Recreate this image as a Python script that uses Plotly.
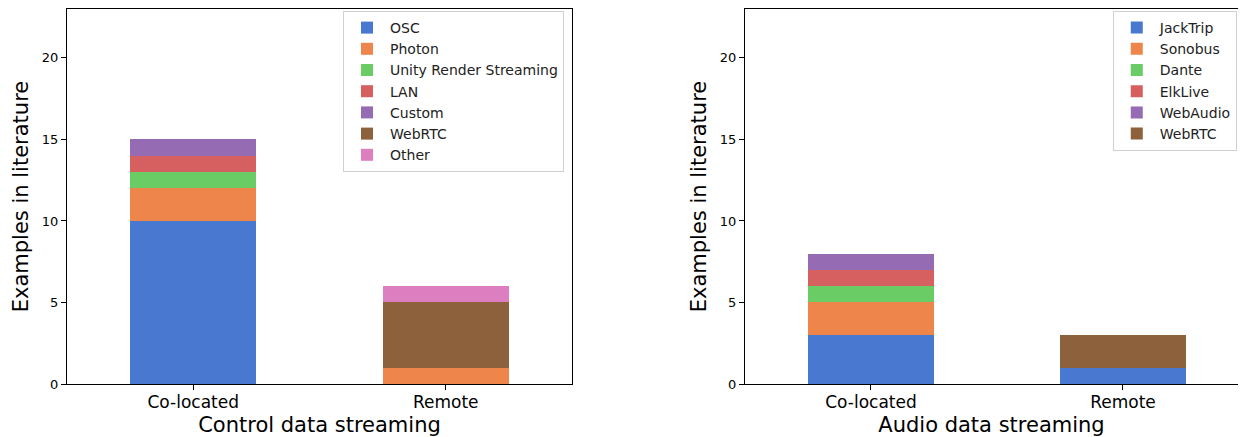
import plotly.graph_objects as go

categories = ["Co-located", "Remote"]

control_series = ["OSC", "Photon", "Unity Render Streaming", "LAN", "Custom", "WebRTC", "Other"]
control_values = [
    [10, 0],
    [2, 1],
    [1, 0],
    [1, 0],
    [1, 0],
    [0, 4],
    [0, 1],
]

audio_series = ["JackTrip", "Sonobus", "Dante", "ElkLive", "WebAudio", "WebRTC"]
audio_values = [
    [3, 1],
    [2, 0],
    [1, 0],
    [1, 0],
    [1, 0],
    [0, 2],
]

palette = ["#4878d0", "#ee854a", "#6acc64", "#d65f5f", "#956cb4", "#8c613c", "#dc7ec0"]

x_pos = [0, 1]
FONT = "DejaVu Sans"

fig = go.Figure()
for i, (name, vals) in enumerate(zip(control_series, control_values)):
    fig.add_trace(go.Bar(x=x_pos, y=vals, name=name, width=0.5,
                         marker=dict(color=palette[i], line=dict(width=0)),
                         xaxis="x", yaxis="y", legend="legend"))
for i, (name, vals) in enumerate(zip(audio_series, audio_values)):
    fig.add_trace(go.Bar(x=x_pos, y=vals, name=name, width=0.5,
                         marker=dict(color=palette[i], line=dict(width=0)),
                         xaxis="x2", yaxis="y2", legend="legend2"))

OFF = 8  # page body margin offset
W, H = 1246 - 2 * OFF, 437 - OFF
def fx(px): return (px - OFF) / W
def fy(py): return (H - (py - OFF)) / H

line_common = dict(showgrid=False, zeroline=False, showline=True, linecolor="black", linewidth=1,
                   ticks="outside", ticklen=5, tickcolor="black", automargin=False)
ytick = dict(family=FONT, size=13, color="black")
xtick = dict(family=FONT, size=17, color="black")
TITLE = dict(family=FONT, size=21, color="black")

right_edge = W + OFF  # screen px of the figure's right edge
fig.update_layout(
    width=W, height=H,
    margin=dict(l=0, r=0, t=0, b=0, autoexpand=False),
    paper_bgcolor="white", plot_bgcolor="white",
    barmode="stack",
    font=dict(family=FONT, color="black"),
    xaxis=dict(domain=[fx(67), fx(572)], range=[-0.5, 1.5], anchor="y",
               tickvals=x_pos, ticktext=categories, mirror=True, tickfont=xtick,
               ticklabelstandoff=-2,
               title=dict(text="Control data streaming", font=TITLE, standoff=7),
               **line_common),
    yaxis=dict(domain=[fy(384), fy(9)], range=[0, 23], anchor="x",
               tickvals=[0, 5, 10, 15, 20], mirror=True, tickfont=ytick,
               title=dict(text="Examples in literature", font=TITLE, standoff=7),
               **line_common),
    xaxis2=dict(domain=[fx(745), 1.0], range=[-0.5, 1.5 - (1249 - right_edge) / 252.5], anchor="y2",
                tickvals=x_pos, ticktext=categories, mirror=True, tickfont=xtick,
                ticklabelstandoff=-2,
                title=dict(text="Audio data streaming", font=TITLE, standoff=7),
                **line_common),
    yaxis2=dict(domain=[fy(384), fy(9)], range=[0, 23], anchor="x2",
                tickvals=[0, 5, 10, 15, 20], mirror=False, tickfont=ytick,
                title=dict(text="Examples in literature", font=TITLE, standoff=7),
                **line_common),
    legend=dict(x=fx(343), y=fy(11), xanchor="left", yanchor="top",
                bgcolor="white", bordercolor="#d0d0d0", borderwidth=1,
                font=dict(family=FONT, size=14, color="#222222"), itemwidth=36,
                traceorder="normal", tracegroupgap=0),
    legend2=dict(x=0.999, y=fy(11), xanchor="right", yanchor="top",
                 bgcolor="white", bordercolor="#d0d0d0", borderwidth=1,
                 font=dict(family=FONT, size=14, color="#222222"), itemwidth=36,
                 traceorder="normal", tracegroupgap=0),
)

fig.write_html("out.html")
